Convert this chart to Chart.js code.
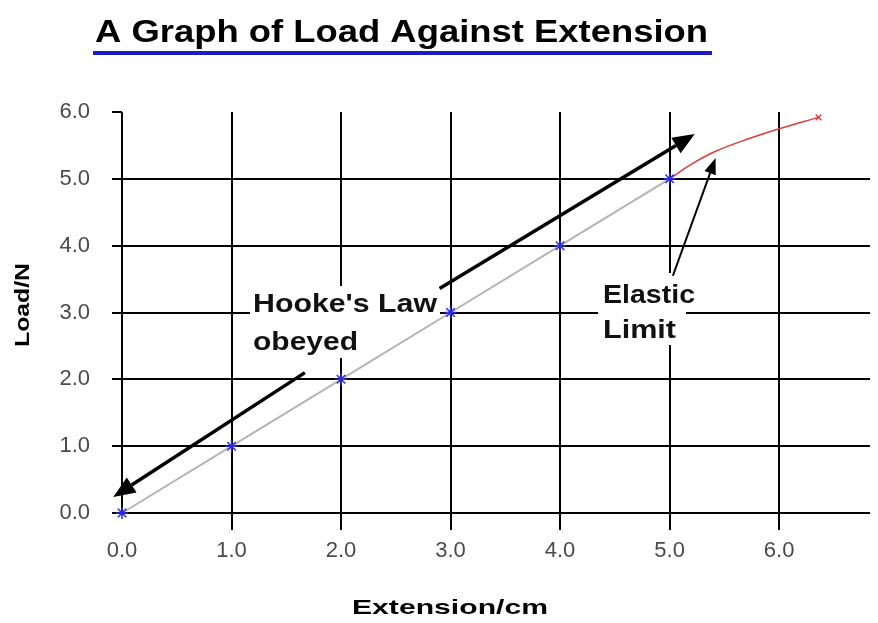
<!DOCTYPE html>
<html>
<head>
<meta charset="utf-8">
<script src="https://cdn.jsdelivr.net/npm/chart.js@4"></script>
<style>
  html, body { margin: 0; padding: 0; background: #fff; }
  #wrap { width: 878px; height: 623px; }
</style>
</head>
<body>
<div id="wrap"><canvas id="loadChart" width="878" height="623"></canvas></div>
<script>
// Data
const extension = [0, 1, 2, 3, 4, 5];          // cm
const load = [0, 1, 2, 3, 4, 5];               // N
const plasticExt = [5, 5.2, 5.43, 5.74, 6.0, 6.36];
const plasticLoad = [5, 5.22, 5.42, 5.61, 5.75, 5.92];
const xTickValues = [0, 1, 2, 3, 4, 5, 6];
const yTickValues = [0, 1, 2, 3, 4, 5, 6];

// annotation arrows in data units [x1, y1, x2, y2], head at the second point
const hookeArrowUp = [2.9, 3.36, 5.23, 5.67];
const hookeArrowDown = [1.67, 2.1, -0.08, 0.24];
const elasticArrow = [5.03, 3.55, 5.42, 5.31];

const BOLD = '"Liberation Sans", Arial, sans-serif';

// Draw text squeezed/stretched to a given width
function drawFit(ctx, text, x, y, width, font) {
    ctx.save();
    ctx.font = font;
    const w = ctx.measureText(text).width;
    ctx.translate(x, y);
    ctx.scale(width / w, 1);
    ctx.fillText(text, 0, 0);
    ctx.restore();
}

function arrow(ctx, chart, a, lw, headLen, headW) {
    const { x, y } = chart.scales;
    const x1 = x.getPixelForValue(a[0]), y1 = y.getPixelForValue(a[1]);
    const x2 = x.getPixelForValue(a[2]), y2 = y.getPixelForValue(a[3]);
    const ang = Math.atan2(y2 - y1, x2 - x1);
    const bx = x2 - headLen * Math.cos(ang), by = y2 - headLen * Math.sin(ang);
    ctx.save();
    ctx.strokeStyle = '#000';
    ctx.fillStyle = '#000';
    ctx.lineWidth = lw;
    ctx.beginPath();
    ctx.moveTo(x1, y1);
    ctx.lineTo(bx, by);
    ctx.stroke();
    ctx.beginPath();
    ctx.moveTo(x2, y2);
    ctx.lineTo(bx + headW * Math.sin(ang), by - headW * Math.cos(ang));
    ctx.lineTo(bx - headW * Math.sin(ang), by + headW * Math.cos(ang));
    ctx.closePath();
    ctx.fill();
    ctx.restore();
}

// Title, axis titles and the notes on the plot
const overlayPlugin = {
    id: 'overlay',
    beforeDatasetsDraw(chart) {
        // note boxes hide the grid behind them, data lines still show
        const ctx = chart.ctx;
        ctx.save();
        ctx.fillStyle = '#fff';
        ctx.fillRect(250, 286, 190, 72);
        ctx.fillRect(598, 273, 88, 72);
        ctx.restore();
    },
    afterDraw(chart) {
        const { ctx } = chart;
        ctx.save();
        ctx.fillStyle = '#000';
        ctx.textBaseline = 'alphabetic';
        ctx.textAlign = 'left';

        // chart title with blue underline
        drawFit(ctx, 'A Graph of Load Against Extension', 95, 42, 613, 'bold 32px ' + BOLD);
        ctx.fillStyle = '#1c1cc4';
        ctx.fillRect(93, 51, 619, 4);
        ctx.fillStyle = '#000';

        // axis titles
        drawFit(ctx, 'Extension/cm', 352, 614, 196, 'bold 21px ' + BOLD);
        ctx.save();
        ctx.translate(29, 347);
        ctx.rotate(-Math.PI / 2);
        drawFit(ctx, 'Load/N', 0, 0, 84, 'bold 21px ' + BOLD);
        ctx.restore();

        ctx.fillStyle = '#111';
        drawFit(ctx, "Hooke's Law", 253, 312, 184, 'bold 25px ' + BOLD);
        drawFit(ctx, 'obeyed', 253, 350, 105, 'bold 25px ' + BOLD);
        drawFit(ctx, 'Elastic', 603, 303, 92, 'bold 25px ' + BOLD);
        drawFit(ctx, 'Limit', 603, 338, 73, 'bold 25px ' + BOLD);
        ctx.restore();

        arrow(ctx, chart, hookeArrowUp, 3.5, 22, 9);
        arrow(ctx, chart, hookeArrowDown, 3.5, 22, 9);
        arrow(ctx, chart, elasticArrow, 2, 16, 6);
    }
};

const ctx = document.getElementById('loadChart').getContext('2d');

new Chart(ctx, {
    type: 'line',
    data: {
        datasets: [
            {
                label: 'Hooke',
                data: extension.map((v, i) => ({ x: v, y: load[i] })),
                borderColor: '#b4b4b4',
                borderWidth: 2,
                pointStyle: 'star',
                pointRadius: 6,
                pointBorderColor: '#2a2ae0',
                pointBorderWidth: 1.5,
                clip: false,
                order: 1
            },
            {
                label: 'Beyond limit',
                data: plasticExt.map((v, i) => ({ x: v, y: plasticLoad[i] })),
                borderColor: '#e03c3c',
                borderWidth: 1.5,
                tension: 0.4,
                pointStyle: 'crossRot',
                pointRadius: plasticExt.map((v, i) => i === plasticExt.length - 1 ? 4 : 0),
                pointBorderColor: '#e03c3c',
                pointBorderWidth: 1.5,
                clip: false,
                order: 2
            }
        ]
    },
    options: {
        responsive: false,
        animation: false,
        events: [],
        layout: { padding: { top: 112, right: 8, left: 0, bottom: 0 } },
        plugins: {
            legend: { display: false },
            tooltip: { enabled: false }
        },
        scales: {
            x: {
                type: 'linear',
                min: 0,
                max: 6.83,
                afterBuildTicks: (scale) => { scale.ticks = xTickValues.map(v => ({ value: v })); },
                afterFit: (scale) => { scale.height = 110; },
                border: { display: false },
                grid: {
                    color: '#000',
                    lineWidth: 2,
                    tickLength: 17,
                    tickColor: (c) => c.tick && c.tick.value === 0 ? 'rgba(0,0,0,0)' : '#000'
                },
                ticks: {
                    color: '#4a4a4a',
                    padding: 8,
                    font: { family: 'Liberation Sans', size: 22 },
                    callback: (v) => Number(v).toFixed(1)
                }
            },
            y: {
                min: 0,
                max: 6,
                afterBuildTicks: (scale) => { scale.ticks = yTickValues.map(v => ({ value: v })); },
                afterFit: (scale) => { scale.width = 122; },
                border: { display: false },
                grid: {
                    color: (c) => c.tick && c.tick.value === 6 ? 'rgba(0,0,0,0)' : '#000',
                    lineWidth: 2,
                    tickLength: 10,
                    tickColor: '#000'
                },
                ticks: {
                    color: '#4a4a4a',
                    padding: 22,
                    font: { family: 'Liberation Sans', size: 22 },
                    callback: (v) => Number(v).toFixed(1)
                }
            }
        }
    },
    plugins: [overlayPlugin]
});
</script>
</body>
</html>
